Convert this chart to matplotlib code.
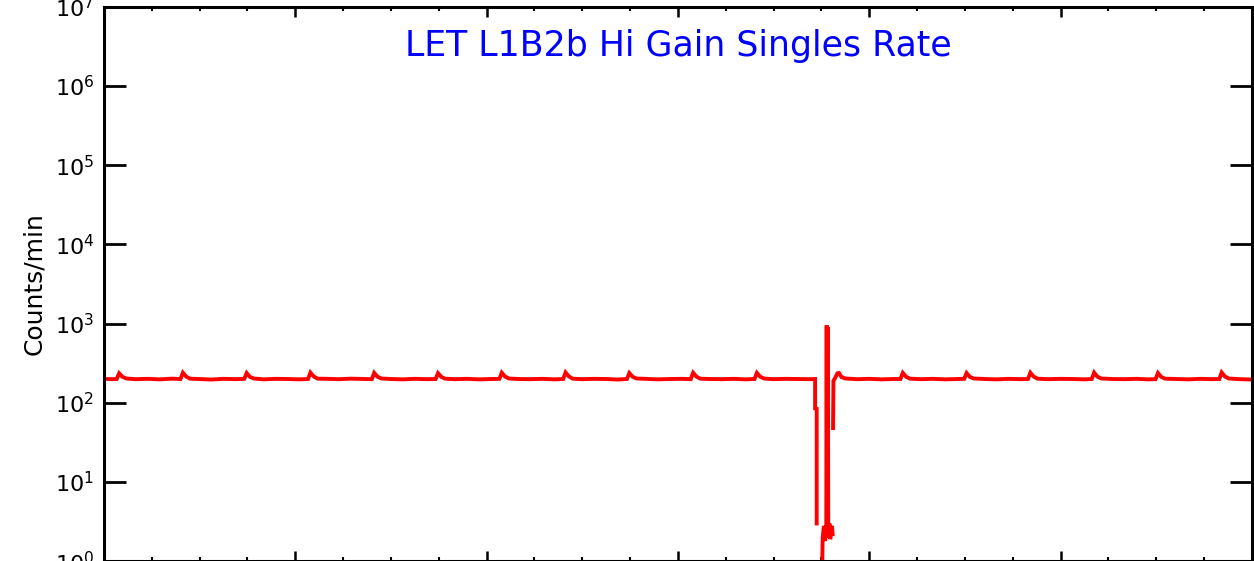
import numpy as np
import matplotlib.pyplot as plt
from matplotlib.ticker import MultipleLocator, NullFormatter, LogLocator, NullLocator

# time in hours from start of plot, L1B2b hi gain singles (counts/min)
hours = [
    0.0, 1.0,
    1.6, 1.9, 2.3, 2.8, 4.0, 5.5, 7.0, 8.5,
    9.6, 9.9, 10.3, 10.8, 12.0, 13.5, 15.0, 16.5,
    17.6, 17.9, 18.3, 18.8, 20.0, 21.5, 23.0, 24.5,
    25.6, 25.9, 26.3, 26.8, 28.0, 29.5, 31.0, 32.5,
    33.6, 33.9, 34.3, 34.8, 36.0, 37.5, 39.0, 40.5,
    41.6, 41.9, 42.3, 42.8, 44.0, 45.5, 47.0, 48.5,
    49.6, 49.9, 50.3, 50.8, 52.0, 53.5, 55.0, 56.5,
    57.6, 57.9, 58.3, 58.8, 60.0, 61.5, 63.0, 64.5,
    65.6, 65.9, 66.3, 66.8, 68.0, 69.5, 71.0, 72.5,
    73.6, 73.9, 74.3, 74.8, 76.0, 77.5, 79.0, 80.5,
    81.6, 81.9, 82.3, 82.8, 84.0, 85.5, 87.0, 88.5, 89.2,
    89.2, 89.4, 89.4, 89.5,
    90.05, 90.15, 90.3, 90.45, 90.6, 90.65, 90.7, 90.8, 90.85, 91.0, 91.1, 91.3, 91.4, 91.42,
    91.45, 91.5, 91.7, 92.0, 92.2, 92.5, 93.0,
    94.5, 96.0, 97.5, 99.0,
    99.9, 100.2, 100.6, 101.1, 102.5, 104.0, 105.5, 107.0,
    107.9, 108.2, 108.6, 109.1, 110.5, 112.0, 113.5, 115.0,
    115.9, 116.2, 116.6, 117.1, 118.5, 120.0, 121.5, 123.0,
    123.9, 124.2, 124.6, 125.1, 126.5, 128.0, 129.5, 131.0,
    131.9, 132.2, 132.6, 133.1, 134.5, 136.0, 137.5, 139.0,
    139.9, 140.2, 140.6, 141.1, 142.5, 144.0,
]
rate = [
    201, 199,
    200, 236, 214, 203, 199, 201, 198, 202,
    200, 240, 215, 202, 200, 197, 201, 199,
    201, 238, 213, 203, 198, 201, 200, 198,
    200, 241, 216, 202, 201, 199, 202, 200,
    199, 239, 214, 203, 200, 198, 201, 199,
    200, 237, 213, 202, 199, 201, 198, 200,
    201, 240, 215, 203, 200, 199, 201, 198,
    200, 242, 216, 202, 199, 201, 200, 197,
    200, 238, 214, 203, 201, 198, 200, 201,
    199, 240, 215, 202, 200, 199, 201, 198,
    200, 239, 214, 203, 199, 201, 200, 199, 200,
    85, 84, 3.0, np.nan,
    0.5, 2.0, 2.8, 1.8, 2.6, 950, 2.2, 900, 2.0, 3.0, 1.9, 2.8, 2.2, np.nan,
    48, 190, 205, 236, 238, 212, 203,
    199, 201, 198, 200,
    200, 239, 214, 202, 199, 201, 198, 200,
    201, 238, 213, 203, 200, 198, 201, 199,
    200, 240, 215, 202, 199, 201, 200, 198,
    200, 241, 214, 203, 200, 199, 201, 198,
    199, 238, 213, 202, 200, 198, 201, 199,
    200, 242, 215, 203, 199, 197,
]

fig = plt.figure(figsize=(12.54, 5.61), dpi=100)
ax = fig.add_axes([0.0829, -0.0005, 0.9155, 0.9884])

ax.plot(hours, rate, color='red', lw=2.8, solid_joinstyle='miter')

ax.set_yscale('log')
ax.set_ylim(1, 1e7)
ax.set_xlim(0, 144)

ax.xaxis.set_major_locator(MultipleLocator(24))
ax.xaxis.set_minor_locator(MultipleLocator(6))
ax.xaxis.set_major_formatter(NullFormatter())
ax.yaxis.set_major_locator(LogLocator(base=10, numticks=10))
ax.yaxis.set_minor_locator(NullLocator())

ax.tick_params(axis='x', which='major', direction='in', length=7.5, width=1.8,
               top=True, bottom=True)
ax.tick_params(axis='x', which='minor', direction='in', length=3, width=1.5,
               top=True, bottom=True)
ax.tick_params(axis='y', which='major', direction='in', length=16, width=2,
               left=True, right=True, labelsize=16, pad=7)

for s in ax.spines.values():
    s.set_linewidth(2.2)

ax.set_ylabel('Counts/min', fontsize=18, labelpad=6)
ax.text(0.5, 0.929, 'LET L1B2b Hi Gain Singles Rate', transform=ax.transAxes,
        ha='center', va='center', color='blue', fontsize=25)

fig.savefig('out.png', dpi=100)
